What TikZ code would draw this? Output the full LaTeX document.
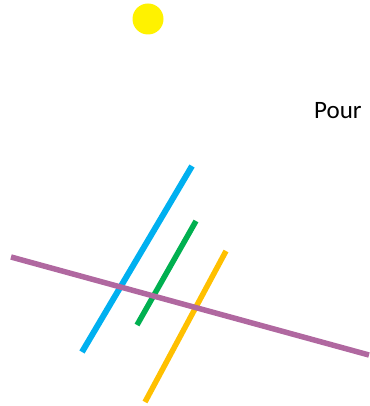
\documentclass[tikz,border=0pt]{standalone}
\usepackage{fontspec}
\setmainfont{Carlito}
\definecolor{lblue}{RGB}{0,176,240}
\definecolor{lgreen}{RGB}{0,176,80}
\definecolor{lorange}{RGB}{255,192,0}
\definecolor{lpurple}{RGB}{176,104,160}
\begin{document}
\begin{tikzpicture}[x=1pt,y=-1pt,
  seg/.style={line width=5.5pt}]
\useasboundingbox (0,0) rectangle (369,406);
\fill[yellow] (148,19) circle (15.5);
\node[anchor=base west,inner sep=0pt,font=\fontsize{25}{29}\selectfont] (pour) at (314,119) {Pour};
\coordinate (b1) at (82,352); \coordinate (b2) at (192,166);
\coordinate (g1) at (137,325); \coordinate (g2) at (196,221);
\coordinate (o1) at (145,402); \coordinate (o2) at (226,251);
\coordinate (p1) at (11,257); \coordinate (p2) at (369,355);
\draw[seg,lblue,line width=6pt] (b1) -- (b2);
\draw[seg,lgreen] (g1) -- (g2);
\draw[seg,lorange] (o1) -- (o2);
\draw[seg,lpurple] (p1) -- (p2);
\end{tikzpicture}
\end{document}
